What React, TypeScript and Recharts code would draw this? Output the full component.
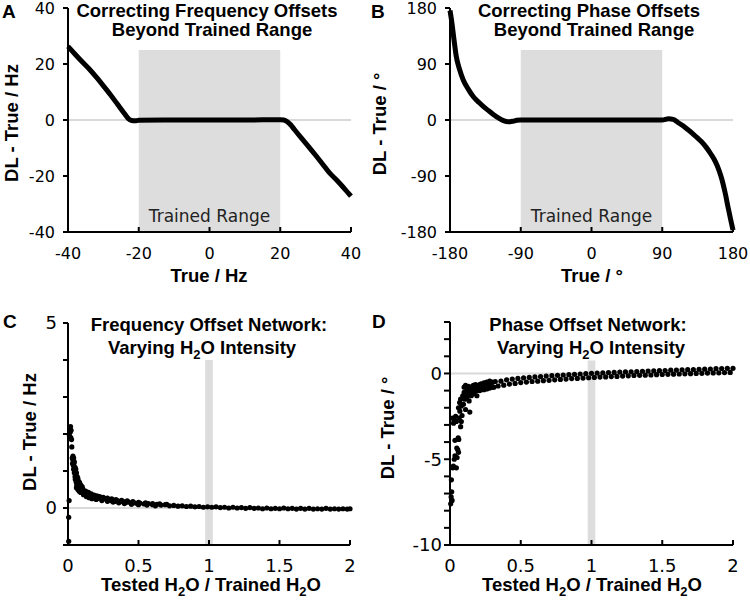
import React from 'react';
import {
  LineChart,
  Line,
  ScatterChart,
  Scatter,
  XAxis,
  YAxis,
  ReferenceArea,
  ReferenceLine,
} from 'recharts';

// A: frequency offset network, DL - True vs True (Hz)
const freqTrue = [-40, -38, -36, -34, -32, -30, -28, -26, -24, -23, -22, -21, -20, -10, 0, 10, 20, 21, 22, 23, 24, 26, 28, 30, 32, 34, 36, 38, 40];
const freqError = [26.3, 23.5, 20.8, 18.2, 15.3, 12.2, 9.0, 5.6, 2.2, 0.6, -0.2, -0.3, -0.1, 0, 0, 0, 0.1, 0, -0.6, -1.8, -3.4, -6.5, -9.5, -12.6, -15.8, -19.0, -21.5, -24.3, -27.2];
const freqTicks = [-40, -20, 0, 20, 40];

// B: phase offset network, DL - True vs True (degrees)
const phaseTrue = [-180, -178, -175, -172, -168, -163, -157, -150, -143, -137, -130, -124, -118, -112, -106, -100, -95, -90, 0, 90, 98, 104, 110, 116, 122, 128, 134, 140, 146, 152, 158, 162, 166, 170, 174, 177, 180];
const phaseError = [176, 160, 130, 102, 82, 64, 50, 37, 28, 21, 14, 8, 3, -1, -3, -2, -0.5, 0, 0, 0, 2, 1, -4, -9, -15, -21, -28, -35, -44, -55, -68, -80, -96, -117, -142, -160, -177];
const phaseTicks = [-180, -90, 0, 90, 180];

// C: frequency error vs tested/trained H2O ratio
const freqWater: [number, number][] = [
  [0.005, -0.25], [0.005, -0.9], [0.008, 0.2],
  [0.01, 1.95], [0.012, 2.15], [0.015, 2.05], [0.018, 2.2], [0.02, 1.9], [0.022, 2.1], [0.025, 1.85], [0.027, 1.65],
  [0.03, 1.35], [0.032, 1.2], [0.035, 1.3], [0.038, 1.15], [0.04, 1.05], [0.042, 1.2], [0.045, 0.95], [0.048, 1.0],
  [0.035, 1.4], [0.04, 1.35], [0.045, 1.25], [0.05, 1.1], [0.055, 1.05], [0.06, 0.95], [0.065, 0.85], [0.07, 0.8],
  [0.075, 0.72], [0.08, 0.7], [0.085, 0.65], [0.09, 0.62], [0.1, 0.58], [0.06, 0.55], [0.07, 0.5], [0.08, 0.45], [0.09, 0.42],
  [0.05, 0.85], [0.052, 0.78], [0.055, 0.9], [0.058, 0.7], [0.06, 0.75], [0.062, 0.62], [0.065, 0.68], [0.068, 0.58],
  [0.07, 0.64], [0.073, 0.55], [0.076, 0.6], [0.08, 0.5], [0.083, 0.55], [0.086, 0.47], [0.09, 0.5], [0.095, 0.44],
  [0.1, 0.47], [0.105, 0.41], [0.11, 0.44], [0.115, 0.38], [0.12, 0.41], [0.13, 0.36], [0.14, 0.38], [0.15, 0.33],
  [0.16, 0.35], [0.17, 0.3], [0.18, 0.32], [0.19, 0.28], [0.2, 0.3], [0.215, 0.26], [0.23, 0.28], [0.245, 0.24],
  [0.26, 0.25], [0.275, 0.22], [0.29, 0.23], [0.305, 0.2], [0.32, 0.21], [0.335, 0.18], [0.35, 0.2], [0.37, 0.17],
  [0.39, 0.18], [0.41, 0.15], [0.43, 0.16], [0.45, 0.13], [0.47, 0.14], [0.49, 0.12], [0.51, 0.13], [0.54, 0.11],
  [0.105, 0.52], [0.125, 0.46], [0.145, 0.42], [0.165, 0.38], [0.185, 0.35], [0.205, 0.33], [0.225, 0.31], [0.25, 0.29],
  [0.28, 0.27], [0.31, 0.25], [0.34, 0.23], [0.38, 0.21], [0.42, 0.19], [0.46, 0.17], [0.5, 0.15], [0.55, 0.14],
  [0.6, 0.12], [0.65, 0.11], [0.7, 0.1],
  [0.11, 0.36], [0.13, 0.31], [0.15, 0.28], [0.17, 0.25], [0.2, 0.23], [0.24, 0.2], [0.28, 0.18], [0.32, 0.16],
  [0.36, 0.14], [0.4, 0.12], [0.45, 0.1], [0.5, 0.09], [0.56, 0.08], [0.62, 0.06],
  [0.57, 0.12], [0.6, 0.09], [0.63, 0.1], [0.66, 0.08], [0.69, 0.09], [0.72, 0.06], [0.75, 0.07], [0.78, 0.05],
  [0.81, 0.06], [0.84, 0.04], [0.87, 0.05], [0.9, 0.03], [0.93, 0.04], [0.96, 0.02], [0.99, 0.03], [1.02, 0.02],
  [1.05, 0.03], [1.08, 0.01], [1.11, 0.02], [1.14, 0.0], [1.17, 0.02], [1.2, 0.0], [1.23, 0.01], [1.26, -0.01],
  [1.29, 0.01], [1.32, -0.01], [1.35, 0.0], [1.38, -0.02], [1.41, 0.0], [1.44, -0.02], [1.47, -0.01], [1.5, -0.02],
  [1.53, 0.0], [1.56, -0.02], [1.59, -0.01], [1.62, -0.03], [1.65, -0.01], [1.68, -0.03], [1.71, -0.01], [1.74, -0.03],
  [1.77, -0.02], [1.8, -0.03], [1.83, -0.01], [1.86, -0.03], [1.89, -0.02], [1.92, -0.03], [1.95, -0.02], [1.98, -0.03],
  [2.0, -0.02],
];

// D: phase error vs tested/trained H2O ratio
const phaseWater: [number, number][] = [
  [0.005, -7.6], [0.008, -7.2], [0.012, -6.9], [0.01, -6.2], [0.015, -7.4],
  [0.02, -5.5], [0.024, -5.4], [0.03, -5.0], [0.035, -4.8], [0.045, -5.5], [0.05, -4.9], [0.055, -4.45], [0.048, -4.35], [0.06, -4.6],
  [0.035, -3.9], [0.058, -3.75], [0.062, -3.85],
  [0.018, -2.6], [0.025, -2.9], [0.03, -2.75], [0.04, -2.5], [0.045, -2.8],
  [0.075, -3.1], [0.08, -2.8], [0.085, -2.45], [0.07, -2.2], [0.065, -2.6],
  [0.06, -2.0], [0.068, -1.7], [0.075, -1.5], [0.08, -1.9], [0.09, -1.3], [0.095, -1.8], [0.1, -1.1], [0.105, -1.5],
  [0.11, -2.1], [0.115, -1.3], [0.12, -0.9], [0.125, -1.2], [0.13, -0.75], [0.135, -1.6], [0.14, -2.25], [0.145, -1.0],
  [0.15, -0.8], [0.16, -1.2], [0.165, -0.7], [0.17, -1.0], [0.18, -0.8], [0.19, -1.3], [0.2, -0.7], [0.21, -1.0],
  [0.22, -0.6], [0.23, -0.9], [0.24, -0.55], [0.25, -0.85], [0.26, -0.5], [0.27, -0.8], [0.28, -0.45], [0.29, -0.75],
  [0.3, -0.5], [0.31, -0.8],
  [0.1, -0.8], [0.11, -0.7], [0.12, -1.4], [0.13, -1.1], [0.14, -0.9], [0.15, -1.3], [0.16, -0.75], [0.17, -1.15],
  [0.18, -0.65], [0.19, -1.0], [0.2, -0.9], [0.21, -0.65], [0.22, -0.95], [0.23, -0.7], [0.24, -0.95], [0.25, -0.6],
  [0.26, -0.9], [0.27, -0.6], [0.28, -0.85], [0.29, -0.55], [0.3, -0.8],
  [0.32, -0.47], [0.34, -0.73], [0.36, -0.45], [0.38, -0.68], [0.4, -0.37], [0.42, -0.62], [0.44, -0.33], [0.46, -0.58],
  [0.48, -0.29], [0.5, -0.53], [0.52, -0.26], [0.54, -0.5], [0.56, -0.23], [0.58, -0.47], [0.6, -0.2], [0.62, -0.45],
  [0.64, -0.18], [0.66, -0.42], [0.68, -0.15], [0.7, -0.4], [0.72, -0.13], [0.74, -0.37], [0.76, -0.11], [0.78, -0.35],
  [0.8, -0.09], [0.82, -0.33], [0.84, -0.07], [0.86, -0.3], [0.88, -0.05], [0.9, -0.29], [0.92, -0.03], [0.94, -0.27],
  [0.96, -0.01], [0.98, -0.25], [1.0, 0.01], [1.02, -0.23], [1.04, 0.02], [1.06, -0.21], [1.08, 0.03], [1.1, -0.2],
  [1.12, 0.05], [1.14, -0.18], [1.16, 0.06], [1.18, -0.17], [1.2, 0.08], [1.22, -0.15], [1.24, 0.09], [1.26, -0.14],
  [1.28, 0.1], [1.3, -0.12], [1.32, 0.11], [1.34, -0.11], [1.36, 0.13], [1.38, -0.1], [1.4, 0.14], [1.42, -0.09],
  [1.44, 0.15], [1.46, -0.07], [1.48, 0.16], [1.5, -0.06], [1.52, 0.17], [1.54, -0.05], [1.56, 0.19], [1.58, -0.04],
  [1.6, 0.2], [1.62, -0.03], [1.64, 0.21], [1.66, -0.02], [1.68, 0.22], [1.7, -0.01], [1.72, 0.23], [1.74, 0.0],
  [1.76, 0.24], [1.78, 0.01], [1.8, 0.25], [1.82, 0.02], [1.84, 0.26], [1.86, 0.03], [1.88, 0.28], [1.9, 0.04],
  [1.92, 0.29], [1.94, 0.05], [1.96, 0.3], [1.98, 0.06], [2.0, 0.3],
];
const ratioTicks = [0, 0.5, 1, 1.5, 2];
const freqWaterTicks = [-1, 0, 1, 2, 3, 4, 5];
const phaseWaterTicks = [-10, -9, -8, -7, -6, -5, -4, -3, -2, -1, 0, 1, 2, 3];

const SHADE = '#dddddd';
const ZERO = '#d9d9d9';
const line2 = { stroke: '#000', strokeWidth: 2 };
const tickSmall = { fill: '#000', fontSize: 16, fontFamily: 'DejaVu Sans' };
const tickBig = { fill: '#000', fontSize: 18, fontFamily: 'DejaVu Sans' };
const rangeLabel = { value: 'Trained Range', position: 'insideBottom' as const, offset: 10, fill: '#222', fontSize: 17, fontFamily: 'DejaVu Sans' };

const dot = (p: any) => <circle cx={p.cx} cy={p.cy} r={2.6} fill="#000" />;

const toPoints = (xs: number[], ys: number[]) => xs.map((x, i) => ({ x, y: ys[i] }));
const toPairs = (pts: [number, number][]) => pts.map(([x, y]) => ({ x, y }));

function H2O() {
  return (
    <>
      <tspan>H</tspan>
      <tspan dy={5} fontSize={13}>2</tspan>
      <tspan dy={-5}>O</tspan>
    </>
  );
}

export default function App() {
  const bold = { fontFamily: 'Liberation Sans, Arial, sans-serif', fontWeight: 700, fontSize: 18.5, fill: '#000' };
  return (
    <div style={{ position: 'absolute', left: 0, top: 0, width: 750, height: 606, background: '#fff' }}>
      {/* A */}
      <div style={{ position: 'absolute', left: 0, top: 0 }}>
        <LineChart width={375} height={300} data={toPoints(freqTrue, freqError)} margin={{ top: 8, right: 24, bottom: 38, left: 0 }}>
          <XAxis dataKey="x" type="number" domain={[-40, 40]} ticks={freqTicks} interval={0} height={30}
            axisLine={line2} tickLine={line2} tickSize={-5} tickMargin={21} tick={tickSmall} />
          <YAxis type="number" domain={[-40, 40]} ticks={freqTicks} interval={0} width={68}
            axisLine={line2} tickLine={line2} tickSize={5} tickMargin={8} tick={tickSmall} />
          <ReferenceArea x1={-20} x2={20} y1={-40} y2={25} fill={SHADE} fillOpacity={1} stroke="none" label={rangeLabel} />
          <ReferenceLine y={0} stroke={ZERO} strokeWidth={2} />
          <Line dataKey="y" type="monotone" stroke="#000" strokeWidth={5} dot={false} isAnimationActive={false} />
        </LineChart>
      </div>

      {/* B */}
      <div style={{ position: 'absolute', left: 375, top: 0 }}>
        <LineChart width={375} height={300} data={toPoints(phaseTrue, phaseError)} margin={{ top: 8, right: 17, bottom: 38, left: 0 }}>
          <XAxis dataKey="x" type="number" domain={[-180, 180]} ticks={phaseTicks} interval={0} height={30}
            axisLine={line2} tickLine={line2} tickSize={-5} tickMargin={21} tick={tickSmall} />
          <YAxis type="number" domain={[-180, 180]} ticks={phaseTicks} interval={0} width={75}
            axisLine={line2} tickLine={line2} tickSize={5} tickMargin={8} tick={tickSmall} />
          <ReferenceArea x1={-90} x2={90} y1={-180} y2={112.5} fill={SHADE} fillOpacity={1} stroke="none" label={rangeLabel} />
          <ReferenceLine y={0} stroke={ZERO} strokeWidth={2} />
          <Line dataKey="y" type="monotone" stroke="#000" strokeWidth={5} dot={false} isAnimationActive={false} />
        </LineChart>
      </div>

      {/* C */}
      <div style={{ position: 'absolute', left: 0, top: 300 }}>
        <ScatterChart width={375} height={306} margin={{ top: 23, right: 25, bottom: 31, left: 0 }}>
          <XAxis dataKey="x" type="number" domain={[0, 2]} ticks={ratioTicks} interval={0} height={30}
            axisLine={line2} tickLine={line2} tickSize={-5} tickMargin={19} tick={tickBig} />
          <YAxis dataKey="y" type="number" domain={[-1, 5]} ticks={freqWaterTicks} interval={0} width={68}
            axisLine={line2} tickLine={line2} tickSize={5} tickMargin={6} tick={tickBig}
            tickFormatter={(v: number) => (v === 0 || v === 5 ? String(v) : '')} />
          <ReferenceArea x1={0.973} x2={1.027} y1={-1} y2={4} fill={SHADE} fillOpacity={1} stroke="none" />
          <ReferenceLine y={0} stroke={ZERO} strokeWidth={2} />
          <Scatter data={toPairs(freqWater)} fill="#000" shape={dot} isAnimationActive={false} />
        </ScatterChart>
      </div>

      {/* D */}
      <div style={{ position: 'absolute', left: 375, top: 300 }}>
        <ScatterChart width={375} height={306} margin={{ top: 22, right: 17, bottom: 31, left: 0 }}>
          <XAxis dataKey="x" type="number" domain={[0, 2]} ticks={ratioTicks} interval={0} height={30}
            axisLine={line2} tickLine={line2} tickSize={-5} tickMargin={19} tick={tickBig} />
          <YAxis dataKey="y" type="number" domain={[-10, 3]} ticks={phaseWaterTicks} interval={0} width={75}
            axisLine={line2} tickLine={line2} tickSize={6} tickMargin={2} tick={tickBig}
            tickFormatter={(v: number) => (v === 0 || v === -5 || v === -10 ? String(v) : '')} />
          <ReferenceArea x1={0.973} x2={1.027} y1={-10} y2={0.75} fill={SHADE} fillOpacity={1} stroke="none" />
          <ReferenceLine y={0} stroke={ZERO} strokeWidth={2} />
          <Scatter data={toPairs(phaseWater)} fill="#000" shape={dot} isAnimationActive={false} />
        </ScatterChart>
      </div>

      {/* titles, panel letters, axis titles */}
      <svg width={750} height={606} style={{ position: 'absolute', left: 0, top: 0, pointerEvents: 'none' }}>
        <g {...bold} fontSize={19}>
          <text x={2} y={18}>A</text>
          <text x={371} y={18}>B</text>
          <text x={3} y={328}>C</text>
          <text x={372} y={328}>D</text>
        </g>
        <g {...bold} textAnchor="middle">
          <text x={207} y={17}>Correcting Frequency Offsets</text>
          <text x={212} y={36}>Beyond Trained Range</text>
          <text x={589} y={17}>Correcting Phase Offsets</text>
          <text x={594} y={36}>Beyond Trained Range</text>
          <text x={209} y={331}>Frequency Offset Network:</text>
          <text x={202} y={354}>Varying <H2O /> Intensity</text>
          <text x={588} y={331}>Phase Offset Network:</text>
          <text x={591} y={354}>Varying <H2O /> Intensity</text>

          <text x={209} y={282}>True / Hz</text>
          <text x={592} y={282}>True / °</text>
          <text x={211} y={591}>Tested <H2O /> / Trained <H2O /></text>
          <text x={592} y={591}>Tested <H2O /> / Trained <H2O /></text>

          <text transform="translate(18,123) rotate(-90)">DL - True / Hz</text>
          <text transform="translate(386,124) rotate(-90)">DL - True / °</text>
          <text transform="translate(36,432) rotate(-90)">DL - True / Hz</text>
          <text transform="translate(394,428) rotate(-90)">DL - True / °</text>
        </g>
      </svg>
    </div>
  );
}
